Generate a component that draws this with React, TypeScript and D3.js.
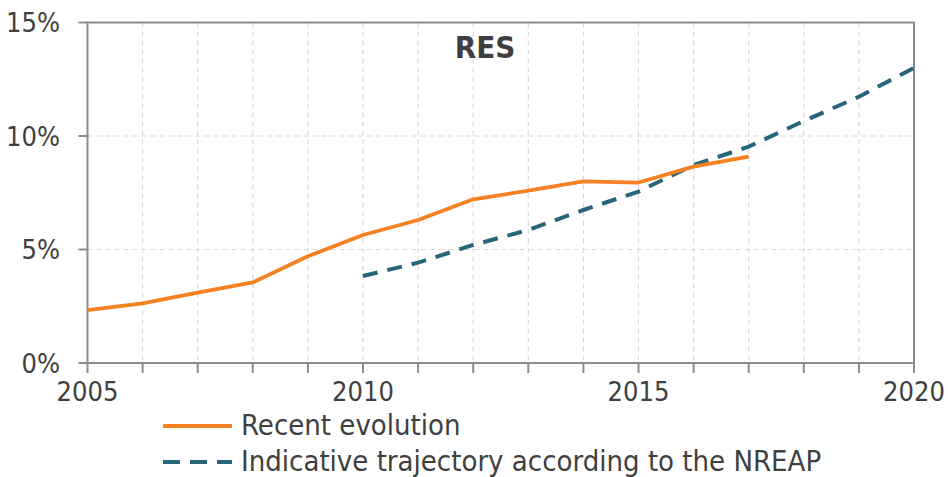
import React from "react";
import * as d3 from "d3";

const years = [2005, 2006, 2007, 2008, 2009, 2010, 2011, 2012, 2013, 2014, 2015, 2016, 2017];
const recentEvolution = [2.33, 2.63, 3.1, 3.55, 4.7, 5.64, 6.3, 7.21, 7.59, 8.0, 7.95, 8.65, 9.09];
const nreapYears = [2010, 2011, 2012, 2013, 2014, 2015, 2016, 2017, 2018, 2019, 2020];
const nreapTrajectory = [3.83, 4.42, 5.2, 5.86, 6.74, 7.55, 8.72, 9.53, 10.66, 11.73, 13.0];
const yTicks = [0, 5, 10, 15];
const xLabelYears = [2005, 2010, 2015, 2020];
const xGridYears = d3.range(2005, 2021);
const title = "RES";
const legendLabels = ["Recent evolution", "Indicative trajectory according to the NREAP"];

const W = 948, H = 477;
const FONT = "'DejaVu Sans Condensed', 'DejaVu Sans', sans-serif";
const ORANGE = "#F58220";
const TEAL = "#27657A";
const AXIS = "#8C8C8C";
const TEXT = "#3F3F3F";

export default function App() {
  const x = d3.scaleLinear().domain([2005, 2020]).range([87.5, 914]);
  const y = d3.scaleLinear().domain([0, 15]).range([363, 22.5]);
  const line = d3.line<[number, number]>().x(d => x(d[0])).y(d => y(d[1]));
  const recent = line(years.map((yr, i) => [yr, recentEvolution[i]]));
  const nreap = line(nreapYears.map((yr, i) => [yr, nreapTrajectory[i]]));

  return (
    <svg width={W} height={H} style={{ position: "absolute", left: 0, top: 0, display: "block" }}>
      <rect width={W} height={H} fill="white" />
      {/* grid */}
      {xGridYears.slice(1, -1).map(yr => (
        <line key={"gx" + yr} x1={x(yr)} x2={x(yr)} y1={y(15)} y2={y(0)} stroke="#DADADA" strokeWidth={1.2} strokeDasharray="5,4" />
      ))}
      {yTicks.slice(1, -1).map(t => (
        <line key={"gy" + t} x1={x(2005)} x2={x(2020)} y1={y(t)} y2={y(t)} stroke="#DADADA" strokeWidth={1.2} strokeDasharray="5,4" />
      ))}
      {/* frame */}
      <rect x={x(2005)} y={y(15)} width={x(2020) - x(2005)} height={y(0) - y(15)} fill="none" stroke={AXIS} strokeWidth={2} />
      {/* y ticks */}
      {yTicks.map(t => (
        <g key={"yt" + t}>
          <line x1={x(2005) - 9} x2={x(2005)} y1={y(t)} y2={y(t)} stroke={AXIS} strokeWidth={2} />
          <text x={60} y={y(t)} dy="0.36em" textAnchor="end" fontFamily={FONT} fontSize={27} fill={TEXT}>{t}%</text>
        </g>
      ))}
      {/* x ticks */}
      {xGridYears.map(yr => (
        <line key={"xt" + yr} x1={x(yr)} x2={x(yr)} y1={y(0)} y2={y(0) + 10} stroke={AXIS} strokeWidth={2} />
      ))}
      {xLabelYears.map(yr => (
        <text key={"xl" + yr} x={x(yr)} y={401} textAnchor="middle" fontFamily={FONT} fontSize={27} fill={TEXT}>{yr}</text>
      ))}
      {/* series */}
      <path d={nreap ?? ""} fill="none" stroke={TEAL} strokeWidth={4} strokeDasharray="15,10" />
      <path d={recent ?? ""} fill="none" stroke={ORANGE} strokeWidth={3.8} strokeLinejoin="round" />
      {/* title */}
      <text x={485} y={58} textAnchor="middle" fontFamily={FONT} fontSize={31} fontWeight="bold" fill={TEXT}>{title}</text>
      {/* legend */}
      <line x1={163} x2={232} y1={426} y2={426} stroke={ORANGE} strokeWidth={3.8} />
      <text x={241} y={435} fontFamily={FONT} fontSize={29} fill={TEXT}>{legendLabels[0]}</text>
      <line x1={163} x2={232} y1={462} y2={462} stroke={TEAL} strokeWidth={4} strokeDasharray="17,10" />
      <text x={241} y={471} fontFamily={FONT} fontSize={29} fill={TEXT}>{legendLabels[1]}</text>
    </svg>
  );
}
